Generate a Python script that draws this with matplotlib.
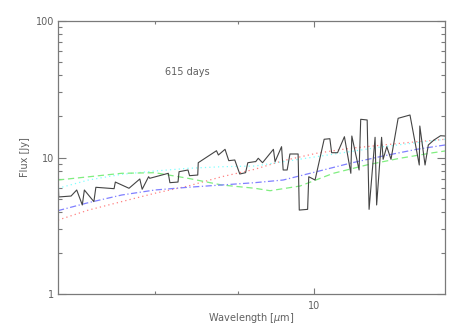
import numpy as np
import matplotlib
matplotlib.use("Agg")
import matplotlib.pyplot as plt
from matplotlib.ticker import FixedLocator, NullFormatter, FixedFormatter

# observed spectrum (wavelength in micron, flux in Jy)
spec_wl = [5.00, 5.01, 5.18, 5.26, 5.34, 5.37, 5.51, 5.54, 5.82, 5.84, 6.06, 6.24,
           6.28, 6.39, 6.41, 6.74, 6.77, 6.92, 6.94, 7.11, 7.14, 7.30, 7.31, 7.68,
           7.72, 7.86, 7.94, 8.07, 8.18, 8.31, 8.36, 8.52, 8.54, 8.60, 8.70, 8.96,
           9.00, 9.16, 9.20, 9.30, 9.37, 9.58, 9.61, 9.83, 9.86, 10.03, 10.28, 10.44,
           10.49, 10.66, 10.86, 11.05, 11.08, 11.30, 11.35, 11.55, 11.61, 11.80, 11.85,
           12.01, 12.06, 12.18, 12.32, 12.56, 12.97, 13.30, 13.32, 13.51, 13.63, 13.84,
           14.09, 14.26]
spec_flux = [7.20, 5.14, 5.22, 5.78, 4.49, 5.78, 4.75, 6.05, 5.91, 6.61, 5.95, 6.96,
             5.85, 7.23, 7.04, 7.66, 6.54, 6.61, 7.87, 8.10, 7.36, 7.44, 9.16, 11.21,
             10.43, 11.48, 9.48, 9.59, 7.57, 7.74, 9.16, 9.32, 9.32, 9.87, 9.16, 11.48,
             9.32, 12.00, 8.10, 8.10, 10.61, 10.61, 4.12, 4.17, 7.23, 6.84, 13.6, 13.73,
             10.84, 10.84, 14.20, 7.66, 14.37, 8.10, 19.05, 18.83, 4.17, 14.06, 4.49,
             14.06, 9.70, 12.00, 9.70, 19.37, 20.48, 8.81, 17.01, 8.81, 12.35, 13.43,
             14.44, 14.37]

# model curves
green_wl = [5.00, 5.94, 6.50, 7.11, 7.79, 8.52, 8.88, 9.63, 10.54, 11.53, 12.62, 13.81, 14.26]
green_flux = [6.84, 7.66, 7.74, 7.04, 6.29, 5.95, 5.71, 6.18, 7.66, 8.81, 9.87, 10.84, 11.16]

model_wl = [5.00, 5.43, 5.94, 6.50, 7.11, 7.79, 8.52, 9.20, 10.07, 11.02, 12.06, 13.21, 14.26]
cyan_flux = [5.95, 6.84, 7.53, 7.96, 8.33, 8.56, 8.66, 9.32, 10.14, 11.03, 12.00, 12.84, 13.59]
red_flux = [3.48, 4.12, 4.75, 5.47, 6.18, 7.23, 8.20, 9.48, 10.74, 11.68, 12.35, 13.05, 13.59]
blue_flux = [4.08, 4.67, 5.31, 5.78, 6.05, 6.29, 6.54, 6.84, 7.87, 9.07, 10.26, 11.48, 12.35]

x_range = (5.0, 14.26)
y_range = (1, 100)
x_minor = [6.5, 8.15]
x_major = [10]

axcol = "#7a7a7a"
txtcol = "#606060"

fig = plt.figure(figsize=(4.63, 3.31), dpi=100)
ax = fig.add_axes([58 / 463, 1 - 294 / 331, 387 / 463, 273 / 331])

ax.plot(model_wl, red_flux, color="#ff8080", lw=0.9, ls=(0, (1, 2.5)))
ax.plot(model_wl, cyan_flux, color="#80ffff", lw=0.9, ls=(0, (1, 2.5)))
ax.plot(green_wl, green_flux, color="#80ee80", lw=0.9, ls=(0, (5, 3)))
ax.plot(model_wl, blue_flux, color="#8080ff", lw=0.9, ls=(0, (5, 2, 1, 2)))
ax.plot(spec_wl, spec_flux, color="#444444", lw=0.8)

ax.set_xscale("log")
ax.set_yscale("log")
ax.set_xlim(*x_range)
ax.set_ylim(*y_range)

ax.xaxis.set_major_locator(FixedLocator(x_major))
ax.xaxis.set_major_formatter(FixedFormatter(["10"]))
ax.xaxis.set_minor_locator(FixedLocator(x_minor))
ax.xaxis.set_minor_formatter(NullFormatter())

ax.yaxis.set_major_locator(FixedLocator([1, 10, 100]))
ax.yaxis.set_major_formatter(FixedFormatter(["1", "10", "100"]))
ax.yaxis.set_minor_locator(FixedLocator([m * d for d in (1, 10) for m in range(2, 10)]))
ax.yaxis.set_minor_formatter(NullFormatter())

for sp in ax.spines.values():
    sp.set_color(axcol)
    sp.set_linewidth(0.9)

ax.tick_params(axis="both", which="both", direction="in", top=True, right=True,
               colors=axcol, labelcolor=txtcol, labelsize=7, width=0.8)
ax.tick_params(axis="y", which="major", length=5.8, pad=3)
ax.tick_params(axis="y", which="minor", length=3.2)
ax.tick_params(axis="x", which="major", length=4.2, pad=5)
ax.tick_params(axis="x", which="minor", length=2.2)

ax.text(0.276, 0.813, "615 days", transform=ax.transAxes, fontsize=7,
        color=txtcol, ha="left", va="center")

fig.text(25 / 463, 1 - 157 / 331, "Flux [Jy]", rotation=90, fontsize=7,
         color=txtcol, ha="center", va="center")
fig.text(251 / 463, 1 - 318 / 331, "Wavelength [$\\mu$m]", fontsize=7,
         color=txtcol, ha="center", va="center")

fig.savefig("out.png", dpi=100)
